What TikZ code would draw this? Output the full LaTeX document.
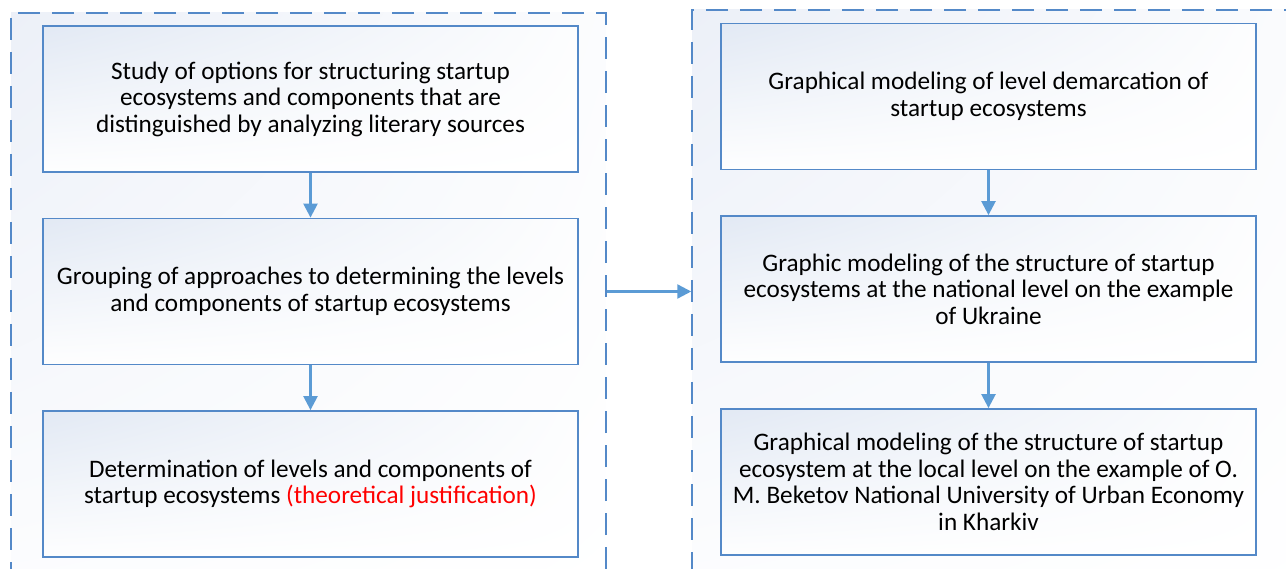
\documentclass[tikz,border=0pt]{standalone}
\usepackage{fontspec}
\setmainfont{Carlito}
\usetikzlibrary{arrows.meta,shadings}
\definecolor{boxline}{RGB}{84,137,200}
\definecolor{arrowc}{RGB}{91,155,213}
\definecolor{shadeblue}{RGB}{226,233,244}
\definecolor{groupblue}{RGB}{236,240,248}
\definecolor{redtext}{RGB}{255,0,0}
\begin{document}
\begin{tikzpicture}
[x=1pt,y=-1pt,
 every node/.style={font=\fontsize{25.2}{26.5}\selectfont,align=center,inner sep=0pt},
 stage/.style={draw=boxline,line width=1.8pt,minimum width=535pt,minimum height=146pt,
   upper left=shadeblue,lower left=white!96!shadeblue,upper right=white!92!shadeblue,lower right=white},
 group/.style={draw=boxline,line width=1.5pt,dash pattern=on 22pt off 12pt,
   upper left=groupblue,lower left=white!90!groupblue,upper right=white!80!groupblue,lower right=white},
 flow/.style={arrowc,line width=2.4pt,-{Triangle[width=14pt,length=14pt]}}]
  \useasboundingbox (0,0) rectangle (1286,569);

  % dashed groups
  \node[group,minimum width=595pt,minimum height=607pt] (gl) at (308.5,316.5) {};
  \node[group,minimum width=648pt,minimum height=610pt] (gr) at (1016,315) {};

  % left column
  \node[stage] (l1) at (310.5,99) {Study of options for structuring startup\\ecosystems and components that are\\distinguished by analyzing literary sources};
  \node[stage] (l2) at (310.5,291.5) {Grouping of approaches to determining the levels\\and components of startup ecosystems};
  \node[stage] (l3) at (310.5,484) {Determination of levels and components of\\startup ecosystems \textcolor{redtext}{(theoretical justification)}};

  % right column
  \node[stage] (r1) at (988.5,96.5) {Graphical modeling of level demarcation of\\startup ecosystems};
  \node[stage] (r2) at (988.5,289) {Graphic modeling of the structure of startup\\ecosystems at the national level on the example\\of Ukraine};
  \node[stage] (r3) at (988.5,482) {Graphical modeling of the structure of startup\\ecosystem at the local level on the example of O.\\M. Beketov National University of Urban Economy\\in Kharkiv};

  \foreach \from/\to in {l1/l2,l2/l3,r1/r2,r2/r3}
    \draw[flow] (\from) -- (\to);

  \draw[flow] (gl.east |- l2.east) -- (gr.west |- l2.east);
\end{tikzpicture}
\end{document}
